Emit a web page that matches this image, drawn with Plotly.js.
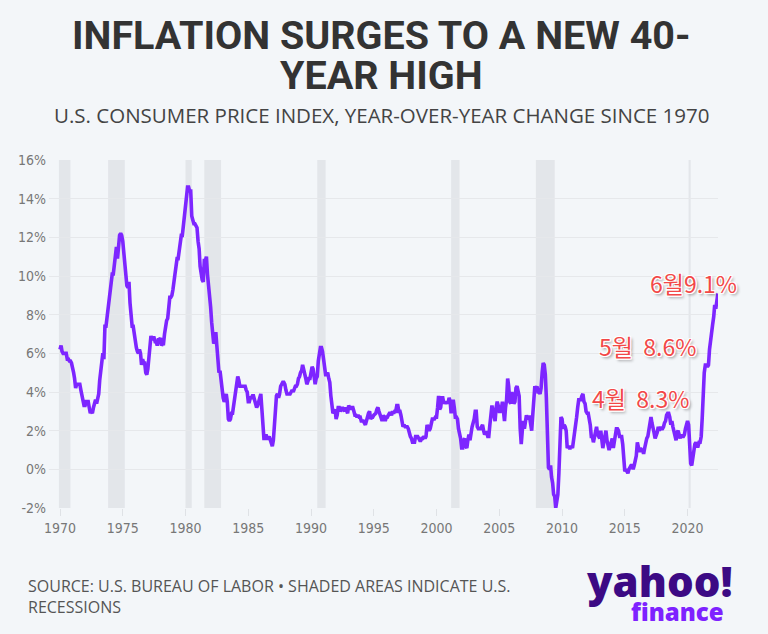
<!DOCTYPE html>
<html>
<head>
<meta charset="utf-8">
<script src="https://cdn.plot.ly/plotly-3.0.1.min.js"></script>
<style>
html,body{margin:0;padding:0;background:#f3f6f9;}
#chart{width:768px;height:634px;}
</style>
</head>
<body>
<div id="chart"></div>
<script>
// CPI year-over-year change (%), monthly
const startYear = 1970;
const cpi1970 = [6.2, 6.4, 6.1, 6.0, 6.0, 6.0, 6.0, 5.7, 5.7, 5.6, 5.6, 5.5];
const cpi1971 = [5.3, 5.0, 4.7, 4.2, 4.4, 4.4, 4.4, 4.4, 4.1, 3.8, 3.5, 3.3];
const cpi1972 = [3.3, 3.5, 3.5, 3.5, 3.2, 2.9, 3.0, 2.9, 3.2, 3.4, 3.6, 3.4];
const cpi1973 = [3.7, 3.9, 4.6, 5.1, 5.5, 6.0, 5.7, 7.4, 7.4, 7.9, 8.3, 8.7];
const cpi1974 = [9.4, 10.0, 10.1, 10.1, 10.7, 10.9, 11.5, 10.9, 11.9, 12.1, 12.2, 12.1];
const cpi1975 = [11.8, 11.2, 10.3, 10.2, 9.5, 9.4, 9.7, 8.6, 7.9, 7.4, 7.4, 6.9];
const cpi1976 = [6.7, 6.3, 6.1, 6.0, 6.2, 6.0, 5.4, 5.7, 5.5, 5.5, 5.0, 4.9];
const cpi1977 = [5.2, 5.9, 6.4, 6.9, 6.7, 6.8, 6.8, 6.6, 6.6, 6.4, 6.7, 6.7];
const cpi1978 = [6.8, 6.4, 6.5, 6.5, 7.0, 7.4, 7.7, 7.8, 8.3, 8.9, 8.9, 9.0];
const cpi1979 = [9.3, 9.9, 10.1, 10.5, 10.9, 10.9, 11.3, 11.8, 12.1, 12.1, 12.6, 13.3];
const cpi1980 = [13.9, 14.2, 14.6, 14.6, 14.4, 14.4, 13.1, 12.9, 12.7, 12.7, 12.6, 12.5];
const cpi1981 = [11.8, 11.4, 10.5, 10.0, 9.8, 9.7, 10.8, 10.8, 11.0, 10.1, 9.6, 8.9];
const cpi1982 = [8.4, 7.6, 6.8, 6.5, 6.7, 7.1, 6.4, 5.9, 5.0, 5.1, 4.6, 3.8];
const cpi1983 = [3.7, 3.5, 3.6, 3.9, 3.5, 2.6, 2.5, 2.6, 2.9, 2.9, 3.3, 3.8];
const cpi1984 = [4.2, 4.6, 4.8, 4.6, 4.3, 4.3, 4.3, 4.3, 4.3, 4.3, 4.1, 4.0];
const cpi1985 = [3.5, 3.5, 3.7, 3.7, 3.8, 3.8, 3.6, 3.4, 3.2, 3.3, 3.5, 3.8];
const cpi1986 = [3.9, 3.1, 2.3, 1.6, 1.6, 1.8, 1.6, 1.6, 1.7, 1.5, 1.3, 1.2];
const cpi1987 = [1.5, 2.1, 3.0, 3.8, 3.9, 3.7, 3.9, 4.3, 4.4, 4.5, 4.5, 4.4];
const cpi1988 = [4.1, 3.9, 3.9, 3.9, 3.9, 4.0, 4.1, 4.0, 4.2, 4.3, 4.3, 4.4];
const cpi1989 = [4.7, 4.8, 5.0, 5.1, 5.4, 5.2, 5.0, 4.7, 4.4, 4.5, 4.7, 4.7];
const cpi1990 = [5.2, 5.3, 5.2, 4.7, 4.4, 4.7, 4.8, 5.6, 6.2, 6.3, 6.3, 6.1];
const cpi1991 = [5.7, 5.3, 4.9, 4.9, 5.0, 4.7, 4.5, 3.8, 3.4, 2.9, 3.0, 3.1];
const cpi1992 = [2.6, 2.8, 3.2, 3.2, 3.0, 3.1, 3.2, 3.1, 3.0, 3.2, 3.0, 2.9];
const cpi1993 = [3.3, 3.2, 3.1, 3.2, 3.2, 3.0, 2.8, 2.8, 2.7, 2.8, 2.7, 2.7];
const cpi1994 = [2.5, 2.5, 2.5, 2.4, 2.3, 2.5, 2.8, 2.9, 3.0, 2.6, 2.7, 2.7];
const cpi1995 = [2.8, 2.9, 2.9, 3.1, 3.2, 3.0, 2.8, 2.6, 2.5, 2.8, 2.6, 2.5];
const cpi1996 = [2.7, 2.7, 2.8, 2.9, 2.9, 2.8, 3.0, 2.9, 3.0, 3.0, 3.3, 3.3];
const cpi1997 = [3.0, 3.0, 2.8, 2.5, 2.2, 2.3, 2.2, 2.2, 2.2, 2.1, 1.8, 1.7];
const cpi1998 = [1.6, 1.4, 1.4, 1.4, 1.7, 1.7, 1.7, 1.6, 1.5, 1.5, 1.6, 1.6];
const cpi1999 = [1.7, 1.6, 1.7, 2.3, 2.1, 2.0, 2.1, 2.3, 2.6, 2.6, 2.6, 2.7];
const cpi2000 = [2.7, 3.2, 3.8, 3.1, 3.2, 3.7, 3.7, 3.4, 3.5, 3.4, 3.5, 3.4];
const cpi2001 = [3.7, 3.5, 2.9, 3.3, 3.6, 3.2, 2.7, 2.7, 2.6, 2.1, 1.9, 1.6];
const cpi2002 = [1.1, 1.1, 1.5, 1.6, 1.2, 1.1, 1.5, 1.8, 1.5, 2.0, 2.2, 2.4];
const cpi2003 = [2.6, 3.0, 3.0, 2.2, 2.1, 2.1, 2.1, 2.2, 2.3, 2.0, 1.8, 1.9];
const cpi2004 = [1.9, 1.7, 1.7, 2.3, 3.1, 3.3, 3.0, 2.7, 2.5, 3.2, 3.5, 3.3];
const cpi2005 = [3.0, 3.0, 3.1, 3.5, 2.8, 2.5, 3.2, 3.6, 4.7, 4.3, 3.5, 3.4];
const cpi2006 = [4.0, 3.6, 3.4, 3.5, 4.2, 4.3, 4.1, 3.8, 2.1, 1.3, 2.0, 2.5];
const cpi2007 = [2.1, 2.4, 2.8, 2.6, 2.7, 2.7, 2.4, 2.0, 2.8, 3.5, 4.3, 4.1];
const cpi2008 = [4.3, 4.0, 4.0, 3.9, 4.2, 5.0, 5.5, 5.4, 4.9, 3.7, 1.1, 0.1];
const cpi2009 = [0.0, 0.2, -0.4, -0.7, -1.3, -1.4, -2.0, -1.5, -1.3, -0.2, 1.8, 2.7];
const cpi2010 = [2.6, 2.1, 2.3, 2.2, 2.0, 1.1, 1.2, 1.1, 1.1, 1.2, 1.1, 1.5];
const cpi2011 = [1.6, 2.1, 2.7, 3.2, 3.6, 3.6, 3.6, 3.8, 3.9, 3.5, 3.4, 3.0];
const cpi2012 = [2.9, 2.9, 2.7, 2.3, 1.7, 1.7, 1.4, 1.7, 2.0, 2.2, 1.8, 1.7];
const cpi2013 = [1.6, 2.0, 1.5, 1.1, 1.4, 1.8, 2.0, 1.5, 1.2, 1.0, 1.2, 1.5];
const cpi2014 = [1.6, 1.1, 1.5, 2.0, 2.1, 2.1, 2.0, 1.7, 1.7, 1.7, 1.3, 0.8];
const cpi2015 = [-0.1, 0.0, -0.1, -0.2, 0.0, 0.1, 0.2, 0.2, 0.0, 0.2, 0.5, 0.7];
const cpi2016 = [1.4, 1.0, 0.9, 1.1, 1.0, 1.0, 0.8, 1.1, 1.5, 1.6, 1.7, 2.1];
const cpi2017 = [2.5, 2.7, 2.4, 2.2, 1.9, 1.6, 1.7, 1.9, 2.2, 2.0, 2.2, 2.1];
const cpi2018 = [2.1, 2.2, 2.4, 2.5, 2.8, 2.9, 2.9, 2.7, 2.3, 2.5, 2.2, 1.9];
const cpi2019 = [1.6, 1.5, 1.9, 2.0, 1.8, 1.6, 1.8, 1.7, 1.7, 1.8, 2.1, 2.3];
const cpi2020 = [2.5, 2.3, 1.5, 0.3, 0.2, 0.6, 1.0, 1.3, 1.4, 1.2, 1.2, 1.4];
const cpi2021 = [1.4, 1.7, 2.6, 4.2, 5.0, 5.4, 5.4, 5.3, 5.4, 6.2, 6.8, 7.0];
const cpi2022 = [7.5, 7.9, 8.5, 8.3, 8.6, 9.1];

const cpiByYear = [cpi1970, cpi1971, cpi1972, cpi1973, cpi1974, cpi1975, cpi1976, cpi1977, cpi1978, cpi1979,
  cpi1980, cpi1981, cpi1982, cpi1983, cpi1984, cpi1985, cpi1986, cpi1987, cpi1988, cpi1989,
  cpi1990, cpi1991, cpi1992, cpi1993, cpi1994, cpi1995, cpi1996, cpi1997, cpi1998, cpi1999,
  cpi2000, cpi2001, cpi2002, cpi2003, cpi2004, cpi2005, cpi2006, cpi2007, cpi2008, cpi2009,
  cpi2010, cpi2011, cpi2012, cpi2013, cpi2014, cpi2015, cpi2016, cpi2017, cpi2018, cpi2019,
  cpi2020, cpi2021, cpi2022];

// U.S. recessions (start, end)
const recessionStarts = ['1969-12-01', '1973-11-01', '1980-01-01', '1981-07-01', '1990-07-01', '2001-03-01', '2007-12-01', '2020-02-01'];
const recessionEnds   = ['1970-11-01', '1975-03-01', '1980-07-01', '1982-11-01', '1991-03-01', '2001-11-01', '2009-06-01', '2020-04-01'];

// Axis tick labels
const yTickVals = [-2, 0, 2, 4, 6, 8, 10, 12, 14, 16];
const yTickText = ['-2%', '0%', '2%', '4%', '6%', '8%', '10%', '12%', '14%', '16%'];

// Callout labels
const calloutText = ['6월9.1%', '5월\u00a0\u00a08.6%', '4월\u00a0\u00a08.3%'];

// Build series
const xs = [], ys = [];
cpiByYear.forEach((vals, i) => {
  vals.forEach((v, m) => {
    const mm = String(m + 1).padStart(2, '0');
    xs.push((startYear + i) + '-' + mm + '-01');
    ys.push(v);
  });
});

const shapes = recessionStarts.map((s, i) => ({
  type: 'rect', xref: 'x', yref: 'paper', x0: s, x1: recessionEnds[i], y0: 0, y1: 1,
  fillcolor: '#e3e6ea', line: {width: 0}, layer: 'below'
}));

const narrow = '"Liberation Sans Narrow", "DejaVu Sans Condensed", "Roboto", sans-serif';
const calloutFont = {family: '"Noto Sans CJK KR", sans-serif', size: 23, color: '#f24848',
  shadow: '1px 1px 0 #fff, -1px -1px 0 #fff, 1px -1px 0 #fff, -1px 1px 0 #fff, 0 1px 0 #fff, 1px 0 0 #fff, 2px 2px 3px rgba(0,0,0,0.45)'};
const calloutPos = [[0.963, 0.647], [0.895, 0.466], [0.884, 0.316]];

const annotations = [
  {text: 'INFLATION SURGES TO A NEW 40-', xref: 'paper', yref: 'paper', x: 0.497, y: 1.359, xanchor: 'center', yanchor: 'middle', showarrow: false,
   font: {family: 'Roboto, sans-serif', size: 39.5, color: '#333333', weight: 700}},
  {text: 'YEAR HIGH', xref: 'paper', yref: 'paper', x: 0.497, y: 1.244, xanchor: 'center', yanchor: 'middle', showarrow: false,
   font: {family: 'Roboto, sans-serif', size: 39.5, color: '#333333', weight: 700}},
  {text: 'U.S. CONSUMER PRICE INDEX, YEAR-OVER-YEAR CHANGE SINCE 1970', xref: 'paper', yref: 'paper', x: 0.497, y: 1.129, xanchor: 'center', yanchor: 'middle', showarrow: false,
   font: {family: '"Open Sans", sans-serif', size: 20.5, color: '#444444'}},
  {text: 'SOURCE: U.S. BUREAU OF LABOR • SHADED AREAS INDICATE U.S.<br>RECESSIONS', xref: 'paper', yref: 'paper', x: -0.034, y: -0.254, xanchor: 'left', yanchor: 'middle', align: 'left', showarrow: false,
   font: {family: '"Open Sans", sans-serif', size: 16, color: '#555555'}},
  {text: 'yahoo!', xref: 'paper', yref: 'paper', x: 1.025, y: -0.208, xanchor: 'right', yanchor: 'middle', showarrow: false,
   font: {family: '"Open Sans", sans-serif', size: 42, color: '#3c0a84', weight: 800}},
  {text: 'finance', xref: 'paper', yref: 'paper', x: 1.012, y: -0.298, xanchor: 'right', yanchor: 'middle', showarrow: false,
   font: {family: '"Open Sans", sans-serif', size: 24, color: '#7e22ff', weight: 800}}
];
calloutText.forEach((t, i) => {
  annotations.push({text: t, xref: 'paper', yref: 'paper', x: calloutPos[i][0], y: calloutPos[i][1], xanchor: 'center', yanchor: 'middle', showarrow: false, font: calloutFont});
});

const trace = {
  x: xs, y: ys, type: 'scatter', mode: 'lines',
  line: {color: '#7d26ff', width: 3.6, shape: 'linear'},
  hoverinfo: 'x+y'
};

const layout = {
  width: 768, height: 634,
  margin: {l: 49, r: 50, t: 160, b: 126},
  paper_bgcolor: '#f3f6f9', plot_bgcolor: '#f3f6f9',
  showlegend: false,
  xaxis: {
    type: 'date', range: ['1969-02-15', '2022-06-05'],
    tick0: '1970-01-01', dtick: 'M60', tickformat: '%Y',
    showgrid: false, zeroline: false, showline: false,
    ticks: 'outside', ticklen: 7, tickcolor: '#dfe2e6', tickwidth: 1,
    tickfont: {family: narrow, size: 14, color: '#777777'}
  },
  yaxis: {
    range: [-2, 16], tickvals: yTickVals, ticktext: yTickText,
    showgrid: true, gridcolor: '#e6e8eb', gridwidth: 1, zeroline: false, showline: false,
    ticks: '', ticklabelstandoff: 2,
    tickfont: {family: narrow, size: 14, color: '#777777'}
  },
  shapes: shapes,
  annotations: annotations
};

Plotly.newPlot('chart', [trace], layout, {displayModeBar: false, staticPlot: true});
</script>
</body>
</html>
